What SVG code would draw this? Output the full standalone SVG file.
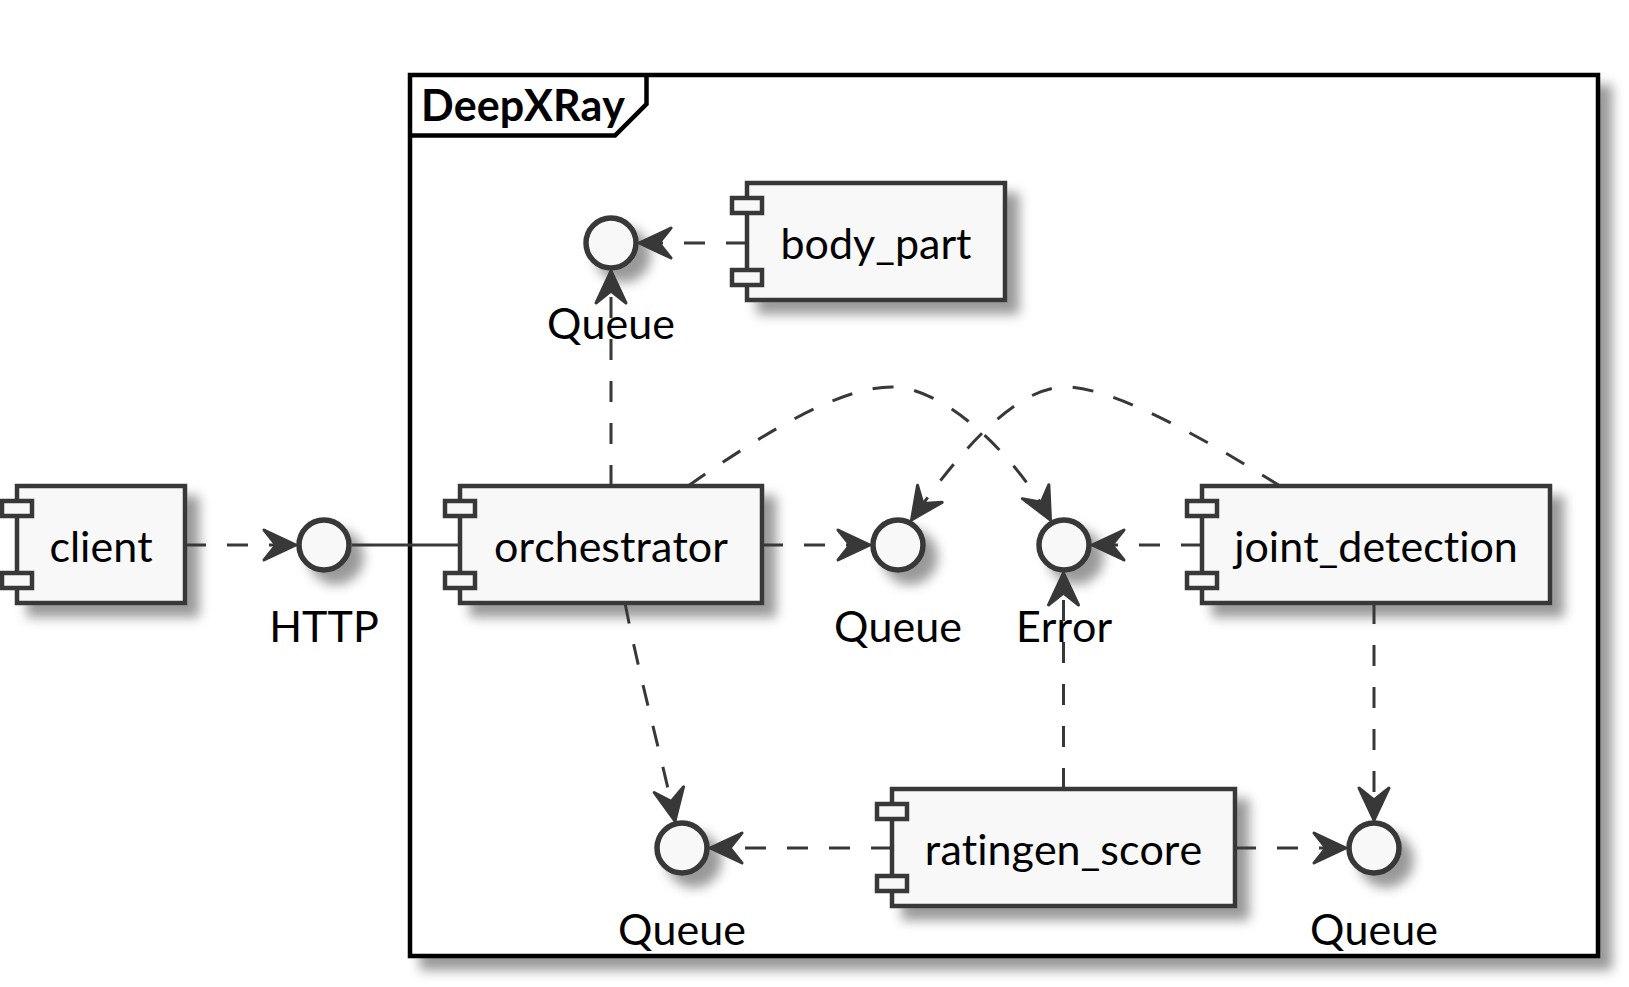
<svg xmlns="http://www.w3.org/2000/svg" width="1629" height="987" viewBox="0 0 1629 987">
<defs>
<style>
.txt{font-family:Lato,"Liberation Sans",sans-serif;font-size:43px;fill:#000000;text-anchor:middle;font-kerning:none;font-variant-ligatures:none}
.title{font-family:Lato,"Liberation Sans",sans-serif;font-size:43px;font-weight:bold;fill:#000000;font-kerning:none;font-variant-ligatures:none}
.comp{fill:#F8F8F8;stroke:#383838;stroke-width:4.5}
.port{fill:#F8F8F8;stroke:#383838;stroke-width:4.5}
.iface{fill:#F8F8F8;stroke:#383838;stroke-width:5.5}
.dash{fill:none;stroke:#383838;stroke-width:3;stroke-dasharray:21,21}
.solid{fill:none;stroke:#383838;stroke-width:3}
.arr{marker-end:url(#arrow)}
</style>
<filter id="shadow" x="-50%" y="-50%" width="200%" height="200%">
<feGaussianBlur in="SourceAlpha" stdDeviation="6" result="b"/>
<feColorMatrix in="b" type="matrix" values="0 0 0 0 0  0 0 0 0 0  0 0 0 0 0  0 0 0 0.4 0" result="b2"/>
<feOffset in="b2" dx="12" dy="12" result="b3"/>
<feBlend in="SourceGraphic" in2="b3" mode="normal"/>
</filter>
<marker id="arrow" markerUnits="userSpaceOnUse" markerWidth="50" markerHeight="50" viewBox="-40 -25 50 50" refX="0" refY="0" orient="auto" overflow="visible">
<path d="M0,0 L-32,-15 L-20,0 L-32,15 Z" fill="#383838" stroke="#383838" stroke-width="3" stroke-linejoin="round"/>
</marker>
</defs>
<rect width="1629" height="987" fill="#FFFFFF"/>

<g id="frame-DeepXRay">
<rect x="410" y="75" width="1188" height="881" fill="#FFFFFF" stroke="#000000" stroke-width="4.5" filter="url(#shadow)"/>
<path d="M410,135.5 L615,135.5 L646.5,104 L646.5,75" fill="none" stroke="#000000" stroke-width="4.5"/>
<text class="title" x="421" y="121">DeepXRay</text>
</g>

<g id="client">
<rect class="comp" x="17" y="486" width="168" height="117" filter="url(#shadow)"/>
<rect class="port" x="2" y="501" width="30" height="15"/>
<rect class="port" x="2" y="573" width="30" height="15"/>
<text class="txt" x="101" y="562">client</text>
</g>

<g id="iface-HTTP">
<circle class="iface" cx="324" cy="545" r="25" filter="url(#shadow)"/>
<text class="txt" x="324" y="642">HTTP</text>
</g>

<g id="orchestrator">
<rect class="comp" x="460" y="486" width="302" height="117" filter="url(#shadow)"/>
<rect class="port" x="445" y="501" width="30" height="15"/>
<rect class="port" x="445" y="573" width="30" height="15"/>
<text class="txt" x="611" y="562">orchestrator</text>
</g>

<g id="body_part">
<rect class="comp" x="747" y="183" width="258" height="117" filter="url(#shadow)"/>
<rect class="port" x="732" y="198" width="30" height="15"/>
<rect class="port" x="732" y="270" width="30" height="15"/>
<text class="txt" x="876" y="259">body_part</text>
</g>

<g id="iface-Queue-top">
<circle class="iface" cx="611" cy="243" r="25" filter="url(#shadow)"/>
<text class="txt" x="611" y="339">Queue</text>
</g>

<g id="iface-Queue-mid">
<circle class="iface" cx="898" cy="545" r="25" filter="url(#shadow)"/>
<text class="txt" x="898" y="642">Queue</text>
</g>

<g id="iface-Error">
<circle class="iface" cx="1064" cy="545" r="25" filter="url(#shadow)"/>
<text class="txt" x="1064" y="642">Error</text>
</g>

<g id="joint_detection">
<rect class="comp" x="1202" y="486" width="348" height="117" filter="url(#shadow)"/>
<rect class="port" x="1187" y="501" width="30" height="15"/>
<rect class="port" x="1187" y="573" width="30" height="15"/>
<text class="txt" x="1376" y="562">joint_detection</text>
</g>

<g id="ratingen_score">
<rect class="comp" x="892" y="789" width="343" height="117" filter="url(#shadow)"/>
<rect class="port" x="877" y="804" width="30" height="15"/>
<rect class="port" x="877" y="876" width="30" height="15"/>
<text class="txt" x="1063.5" y="865">ratingen_score</text>
</g>

<g id="iface-Queue-bl">
<circle class="iface" cx="682" cy="848" r="25" filter="url(#shadow)"/>
<text class="txt" x="682" y="945">Queue</text>
</g>

<g id="iface-Queue-br">
<circle class="iface" cx="1374" cy="848" r="25" filter="url(#shadow)"/>
<text class="txt" x="1374" y="945">Queue</text>
</g>

<g id="connectors">
<path class="dash arr" d="M185,545 H296"/>
<path class="solid" d="M352,545 H460"/>
<path class="dash arr" d="M747,243 H639"/>
<path class="dash arr" d="M611,486 V271"/>
<path class="dash arr" d="M762,545 H870"/>
<path class="dash arr" d="M688,486 C760,436 840,385 895,387 C950,390 1020,462 1050.5,520"/>
<path class="dash arr" d="M1280,486 C1200,436 1110,385 1062,387 C1010,390 952,462 911.5,520"/>
<path class="dash arr" d="M1202,545 H1092"/>
<path class="dash arr" d="M1063.5,789 V573"/>
<path class="dash arr" d="M1374,603 V820"/>
<path class="dash arr" d="M1235,848 H1346"/>
<path class="dash arr" d="M892,848 H710"/>
<path class="dash arr" d="M625,603 C640,680 665,770 675,821"/>
</g>
</svg>
